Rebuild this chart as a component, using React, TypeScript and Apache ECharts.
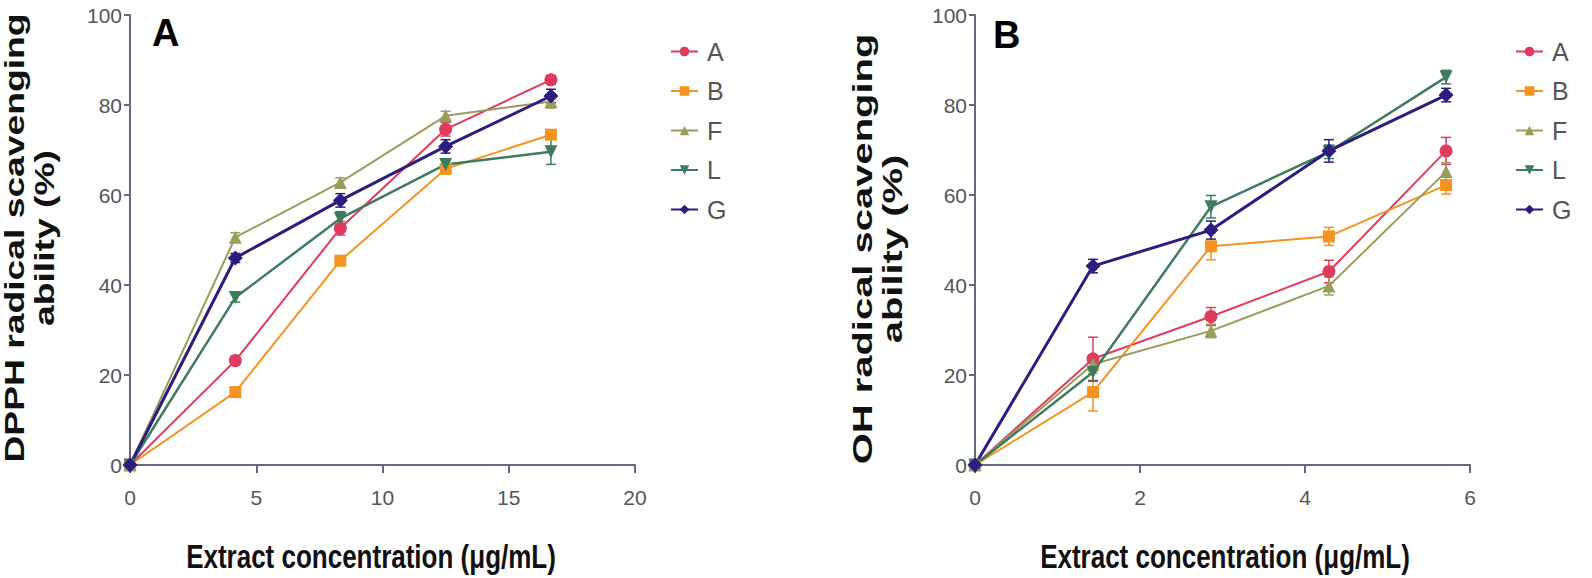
import React, { useEffect, useRef } from "react";
import * as echarts from "echarts";

// ---- data ----
const seriesNames = ["A", "B", "F", "L", "G"];
const seriesColors = ["#e03a5c", "#f39322", "#9c9c5a", "#3d7d5e", "#2c1d7e"];
const seriesSymbols = ["circle", "rect", "triangle", "triangle", "diamond"];
const seriesRotate = [0, 0, 0, 180, 0];
const seriesWidths = [2, 2, 2, 2.5, 3];

// Panel A (DPPH)
const concA = [0, 4.17, 8.33, 12.5, 16.67];
const dpphA = [0, 23.2, 52.6, 74.6, 85.6];
const dpphB = [0, 16.2, 45.4, 65.8, 73.4];
const dpphF = [0, 50.6, 62.8, 77.6, 80.8];
const dpphL = [0, 37.2, 54.8, 66.8, 69.6];
const dpphG = [0, 46.0, 58.8, 70.8, 82.0];
const dpphErrA = [0, 1, 1.5, 1.5, 1];
const dpphErrB = [0, 1, 1, 1, 1];
const dpphErrF = [0, 1, 1, 1, 1.5];
const dpphErrL = [0, 1, 1.5, 1, 2.8];
const dpphErrG = [0, 1, 1.5, 1.5, 1.5];

// Panel B (OH)
const concB = [0, 1.43, 2.86, 4.29, 5.71];
const ohA = [0, 23.6, 33.0, 43.0, 69.8];
const ohB = [0, 16.2, 48.6, 50.8, 62.2];
const ohF = [0, 22.4, 29.8, 39.8, 65.2];
const ohL = [0, 20.6, 57.4, 69.6, 86.2];
const ohG = [0, 44.2, 52.2, 69.8, 82.2];
const ohErrA = [0, 4.8, 2, 2.5, 3];
const ohErrB = [0, 4.2, 3, 2, 2];
const ohErrF = [0, 1.5, 1.5, 2, 2];
const ohErrL = [0, 2, 2.5, 1.5, 1.5];
const ohErrG = [0, 1.5, 2, 2.5, 1.5];

const xTicksA = { min: 0, max: 20, interval: 5 };
const xTicksB = { min: 0, max: 6, interval: 2 };
const yTicks = { min: 0, max: 100, interval: 20 };

const xTitle = "Extract concentration (\u03bcg/mL)";
const yTitleA = "DPPH radical scavenging\nability (%)";
const yTitleB = "OH radical scavenging\nability (%)";

const panelAValues = [dpphA, dpphB, dpphF, dpphL, dpphG];
const panelAErrors = [dpphErrA, dpphErrB, dpphErrF, dpphErrL, dpphErrG];
const panelBValues = [ohA, ohB, ohF, ohL, ohG];
const panelBErrors = [ohErrA, ohErrB, ohErrF, ohErrL, ohErrG];

const AXIS_COLOR = "#67677f";
const LABEL_COLOR = "#555555";
const NARROW = "'Liberation Sans Narrow', 'Arial Narrow', 'Liberation Sans', Arial, sans-serif";
const SANS = "'Liberation Sans', Arial, sans-serif";

function makeAxis(idx: number, t: { min: number; max: number; interval: number }, isX: boolean) {
  return {
    type: "value",
    gridIndex: idx,
    min: t.min,
    max: t.max,
    interval: t.interval,
    axisLine: { show: true, onZero: false, lineStyle: { color: AXIS_COLOR, width: 2 } },
    axisTick: { show: true, length: isX ? 8 : 6, lineStyle: { color: AXIS_COLOR, width: 2 } },
    splitLine: { show: false },
    axisLabel: {
      color: LABEL_COLOR,
      fontFamily: NARROW,
      fontSize: 21,
      margin: isX ? 22 : 8,
    },
  };
}

function buildSeries(gridIdx: number, xs: number[], values: number[][], errs: number[][]) {
  const out: any[] = [];
  values.forEach((vals, i) => {
    const color = seriesColors[i];
    out.push({
      type: "custom",
      name: seriesNames[i] + " error",
      xAxisIndex: gridIdx,
      yAxisIndex: gridIdx,
      z: 1,
      data: xs.map((x, k) => [x, vals[k], errs[i][k]]),
      encode: { x: 0, y: 1 },
      renderItem: (params: any, api: any) => {
        const x = api.value(0);
        const y = api.value(1);
        const e = api.value(2);
        if (!e) return { type: "group", children: [] };
        const top = api.coord([x, y + e]);
        const bot = api.coord([x, y - e]);
        const h = 5;
        const st = { stroke: color, lineWidth: 1.5 };
        return {
          type: "group",
          children: [
            { type: "line", shape: { x1: top[0], y1: top[1], x2: bot[0], y2: bot[1] }, style: st },
            { type: "line", shape: { x1: top[0] - h, y1: top[1], x2: top[0] + h, y2: top[1] }, style: st },
            { type: "line", shape: { x1: bot[0] - h, y1: bot[1], x2: bot[0] + h, y2: bot[1] }, style: st },
          ],
        };
      },
    });
    out.push({
      type: "line",
      name: seriesNames[i],
      xAxisIndex: gridIdx,
      yAxisIndex: gridIdx,
      z: 3,
      data: xs.map((x, k) => [x, vals[k]]),
      symbol: seriesSymbols[i],
      symbolRotate: seriesRotate[i],
      symbolSize: seriesSymbols[i] === "rect" ? 12 : seriesSymbols[i] === "diamond" ? 15 : 13,
      showSymbol: true,
      itemStyle: { color },
      lineStyle: { color, width: seriesWidths[i] },
      emphasis: { disabled: true },
    });
  });
  return out;
}

function makeLegend(left: number) {
  return {
    orient: "vertical",
    left,
    top: 34,
    data: seriesNames,
    itemWidth: 27,
    itemHeight: 12,
    itemGap: 14.5,
    selectedMode: false,
    textStyle: {
      color: LABEL_COLOR,
      fontFamily: NARROW,
      fontSize: 25,
      lineHeight: 24,
      padding: [0, 0, 0, 4],
    },
  };
}

export default function App() {
  const ref = useRef<HTMLDivElement>(null);
  useEffect(() => {
    if (!ref.current) return;
    const chart = echarts.init(ref.current, null, { renderer: "svg" });
    chart.setOption({
      animation: false,
      backgroundColor: "#ffffff",
      grid: [
        { left: 130, top: 15, width: 505, height: 450, containLabel: false },
        { left: 975, top: 15, width: 495, height: 450, containLabel: false },
      ],
      xAxis: [makeAxis(0, xTicksA, true), makeAxis(1, xTicksB, true)],
      yAxis: [makeAxis(0, yTicks, false), makeAxis(1, yTicks, false)],
      legend: [makeLegend(665), makeLegend(1510)],
      series: [
        ...buildSeries(0, concA, panelAValues, panelAErrors),
        ...buildSeries(1, concB, panelBValues, panelBErrors),
      ],
      graphic: [
        {
          type: "text",
          left: 152,
          top: 14,
          style: { text: "A", fontSize: 38, fontWeight: "bold", fontFamily: SANS, fill: "#000" },
        },
        {
          type: "text",
          left: 993,
          top: 16,
          style: { text: "B", fontSize: 38, fontWeight: "bold", fontFamily: SANS, fill: "#000" },
        },
        {
          type: "text",
          x: 30,
          y: 238,
          rotation: Math.PI / 2,
          scaleX: 1.38,
          style: {
            text: yTitleA,
            fontSize: 27,
            lineHeight: 30,
            fontWeight: "bold",
            fontFamily: SANS,
            fill: "#111",
            align: "center",
            verticalAlign: "middle",
          },
        },
        {
          type: "text",
          x: 877,
          y: 249,
          rotation: Math.PI / 2,
          scaleX: 1.48,
          style: {
            text: yTitleB,
            fontSize: 27,
            lineHeight: 30,
            fontWeight: "bold",
            fontFamily: SANS,
            fill: "#111",
            align: "center",
            verticalAlign: "middle",
          },
        },
        {
          type: "text",
          x: 371,
          y: 556,
          scaleY: 1.25,
          style: {
            text: xTitle,
            fontSize: 26,
            fontWeight: "bold",
            fontFamily: SANS,
            fill: "#111",
            align: "center",
            verticalAlign: "middle",
          },
        },
        {
          type: "text",
          x: 1225,
          y: 556,
          scaleY: 1.25,
          style: {
            text: xTitle,
            fontSize: 26,
            fontWeight: "bold",
            fontFamily: SANS,
            fill: "#111",
            align: "center",
            verticalAlign: "middle",
          },
        },
      ],
    });
    return () => chart.dispose();
  }, []);
  return (
    <div
      ref={ref}
      style={{ position: "absolute", left: 0, top: 0, width: 1592, height: 578, background: "#fff" }}
    />
  );
}
